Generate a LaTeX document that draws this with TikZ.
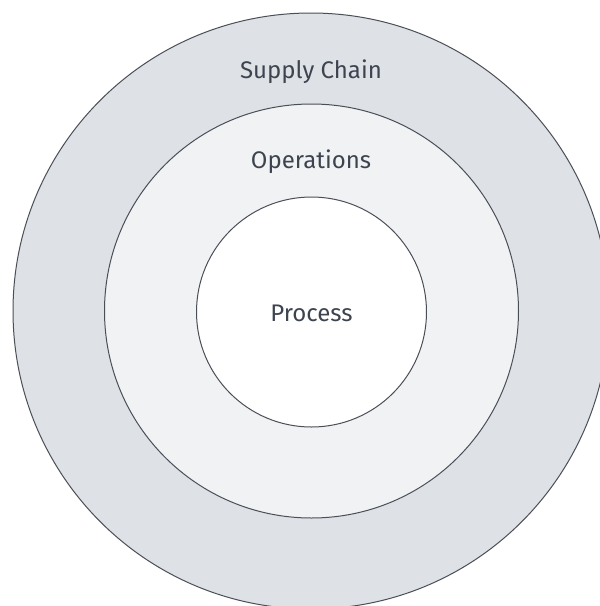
\documentclass[tikz,border=0pt]{standalone}
\usepackage{fontspec}
\setmainfont{Fira Sans}
\definecolor{ringouter}{HTML}{DEE1E6}
\definecolor{ringmid}{HTML}{F1F2F4}
\definecolor{ringline}{HTML}{4A4F57}
\definecolor{labeltext}{HTML}{3D4450}
\begin{document}
\begin{tikzpicture}[x=1pt,y=-1pt,
  ring/.style={draw=ringline,line width=1pt},
  ringlabel/.style={text=labeltext,font=\fontsize{24}{28}\selectfont,inner sep=0pt}]
\useasboundingbox (0,0) rectangle (600,606);
\clip (0,0) rectangle (600,606);
\fill[white] (0,0) rectangle (600,606);
% nested scopes, drawn outermost first
\node[ring,circle,fill=ringouter,minimum size=596pt,inner sep=0pt] (chain) at (311,311) {};
\node[ring,circle,fill=ringmid,minimum size=414pt,inner sep=0pt] (ops) at (311.5,311) {};
\node[ring,circle,fill=white,minimum size=230pt,inner sep=0pt] (proc) at (311.5,312) {};
\node[ringlabel] (chainlbl) at (311,72) {Supply Chain};
\node[ringlabel] (opslbl) at (311,162) {Operations};
\node[ringlabel] (proclbl) at (311.5,313) {Process};
\end{tikzpicture}
\end{document}
